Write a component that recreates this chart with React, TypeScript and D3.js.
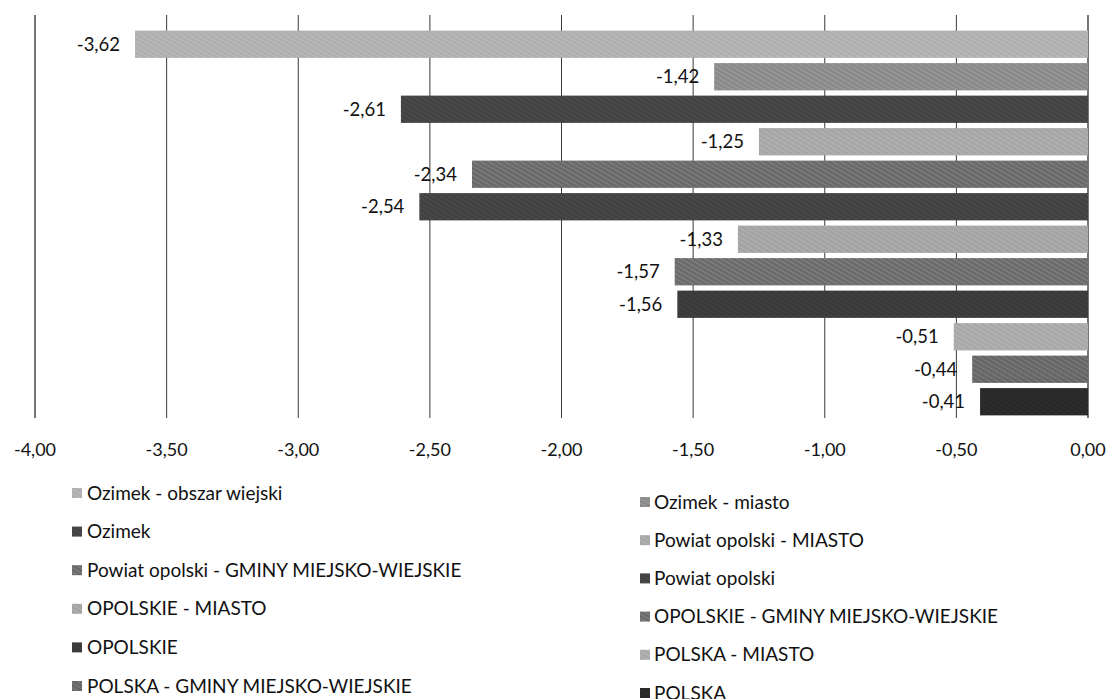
import React from "react";
import * as d3 from "d3";

const categories = [
  "Ozimek - obszar wiejski",
  "Ozimek - miasto",
  "Ozimek",
  "Powiat opolski - MIASTO",
  "Powiat opolski - GMINY MIEJSKO-WIEJSKIE",
  "Powiat opolski",
  "OPOLSKIE - MIASTO",
  "OPOLSKIE - GMINY MIEJSKO-WIEJSKIE",
  "OPOLSKIE",
  "POLSKA - MIASTO",
  "POLSKA - GMINY MIEJSKO-WIEJSKIE",
  "POLSKA",
];
const values = [-3.62, -1.42, -2.61, -1.25, -2.34, -2.54, -1.33, -1.57, -1.56, -0.51, -0.44, -0.41];
const colors = [
  "#b0b0b0", "#8a8a8a", "#484848",
  "#a6a6a6", "#6a6a6a", "#474747",
  "#a4a4a4", "#6c6c6c", "#3e3e3e",
  "#a9a9a9", "#666666", "#2c2c2c",
];
const tickValues = [-4, -3.5, -3, -2.5, -2, -1.5, -1, -0.5, 0];

const W = 1109;
const H = 699;
const FONT = "Lato, 'Open Sans', sans-serif";

const locale = d3.formatLocale({
  decimal: ",",
  thousands: " ",
  grouping: [3],
  currency: ["", ""],
  minus: "-",
});
const fmt = locale.format(".2f");

export default function App() {
  const x = d3.scaleLinear().domain([-4, 0]).range([35, 1088]);
  const y = d3
    .scaleBand<number>()
    .domain(d3.range(values.length))
    .range([28, 418])
    .paddingInner(0.16)
    .paddingOuter(0.08);
  const gridTop = 15;
  const gridBottom = 418;

  const legendLeft = { sx: 72, tx: 87, y0: 493, step: 38.6 };
  const legendRight = { sx: 640, tx: 654, y0: 502, step: 38.2 };

  return (
    <svg
      width={W}
      height={H}
      style={{ position: "absolute", left: 0, top: 0, background: "#fff" }}
      fontFamily={FONT}
    >
      <defs>
        {colors.map((c, i) => (
          <pattern
            key={i}
            id={`pat${i}`}
            patternUnits="userSpaceOnUse"
            width={4}
            height={4}
            patternTransform="rotate(-60)"
          >
            <rect width={4} height={4} fill={c} />
            <line x1={0} y1={0} x2={0} y2={4} stroke={i % 3 === 2 ? "#000" : "#fff"} strokeOpacity={0.22} strokeWidth={1.4} />
          </pattern>
        ))}
      </defs>
      <rect width={W} height={H} fill="#fff" />

      {tickValues.map((t) => (
        <line
          key={`g${t}`}
          x1={x(t)}
          x2={x(t)}
          y1={gridTop}
          y2={gridBottom}
          stroke="#3a3a3a"
          strokeWidth={t === -4 || t === 0 ? 1.4 : 1}
        />
      ))}

      {values.map((v, i) => (
        <g key={`b${i}`}>
          <rect
            x={x(v)}
            y={y(i)}
            width={x(0) - x(v)}
            height={y.bandwidth()}
            fill={`url(#pat${i})`}
          />
          <text
            x={x(v) - 15}
            y={(y(i) as number) + y.bandwidth() / 2}
            dy="0.35em"
            textAnchor="end"
            fontSize={18.5}
            fill="#111"
          >
            {fmt(v)}
          </text>
        </g>
      ))}

      {tickValues.map((t) => (
        <text
          key={`t${t}`}
          x={x(t)}
          y={450}
          dy="0.35em"
          textAnchor="middle"
          fontSize={18}
          fill="#111"
        >
          {fmt(t)}
        </text>
      ))}

      {categories.map((c, i) => {
        const col = i % 2 === 0 ? legendLeft : legendRight;
        const row = Math.floor(i / 2);
        const cy = col.y0 + row * col.step;
        return (
          <g key={`l${i}`}>
            <rect x={col.sx} y={cy - 5} width={10} height={10} fill={`url(#pat${i})`} />
            <text x={col.tx} y={cy} dy="0.35em" fontSize={19} fill="#111">
              {c}
            </text>
          </g>
        );
      })}
    </svg>
  );
}
